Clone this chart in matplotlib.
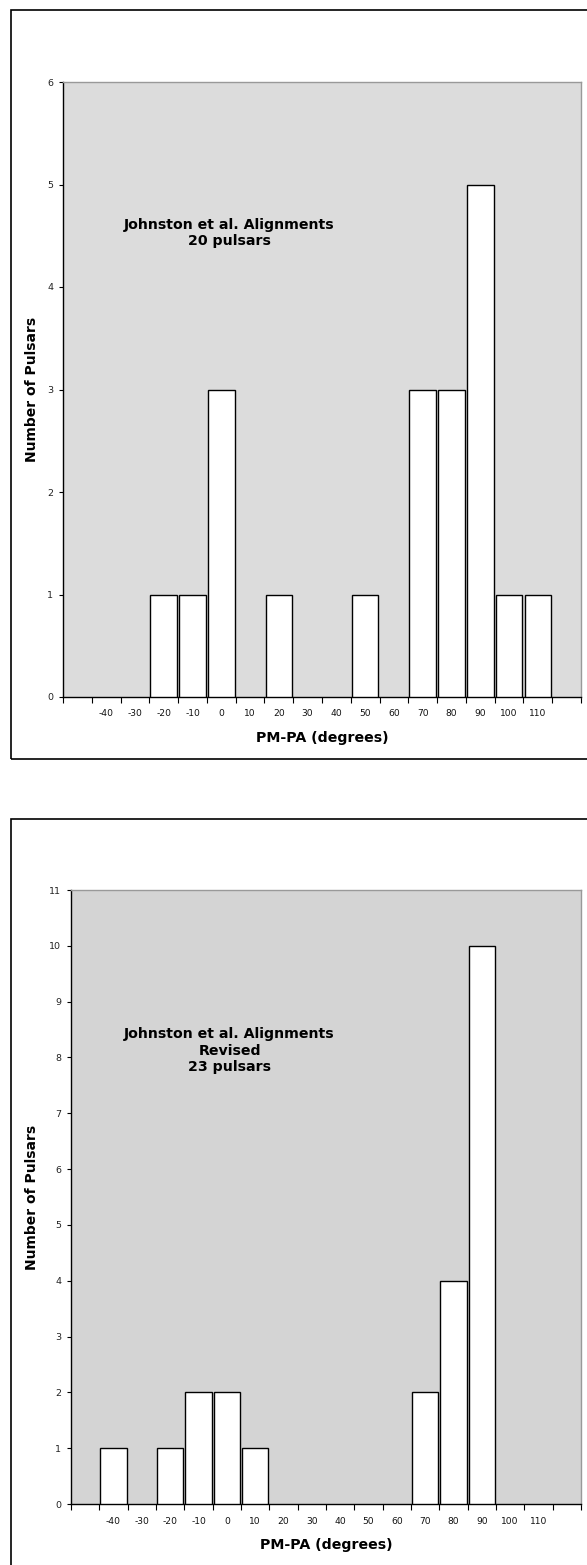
import matplotlib.pyplot as plt
from matplotlib.patches import Rectangle
import numpy as np

# category labels (blank slot at each end, as in the original chart)
categories = ['', '-40', '-30', '-20', '-10', '0', '10', '20', '30', '40',
              '50', '60', '70', '80', '90', '100', '110', '']

counts_orig = [0, 0, 0, 1, 1, 3, 0, 1, 0, 0, 1, 0, 3, 3, 5, 1, 1, 0]
counts_rev = [0, 1, 0, 1, 2, 2, 1, 0, 0, 0, 0, 0, 2, 4, 10, 0, 0, 0]

title_orig = 'Johnston et al. Alignments\n20 pulsars'
title_rev = 'Johnston et al. Alignments\nRevised\n23 pulsars'

W, H = 587, 1565
fig = plt.figure(figsize=(W / 100, H / 100), dpi=100)


def px_axes(left, top, right, bottom):
    return fig.add_axes([left / W, 1 - bottom / H, (right - left) / W, (bottom - top) / H])


def frame(left, top, right, bottom):
    fig.patches.append(Rectangle((left / W, 1 - bottom / H), (right - left) / W,
                                 (bottom - top) / H, transform=fig.transFigure,
                                 fill=False, edgecolor='black', lw=1.2))


def draw_hist(ax, counts, ymax, bg, text, tx, ty):
    ax.set_facecolor(bg)
    x = np.arange(len(categories))
    c = np.array(counts)
    m = c > 0
    ax.bar(x[m], c[m], width=0.92, color='white', edgecolor='black', lw=1, zorder=3)
    ax.set_xlim(-0.5, len(categories) - 0.5)
    ax.set_ylim(0, ymax)
    ax.set_yticks(range(ymax + 1))
    ax.set_xticks(np.arange(len(categories) + 1) - 0.5)
    ax.set_xticklabels([])
    ax.set_xticks(x, minor=True)
    ax.set_xticklabels(categories, minor=True)
    ax.tick_params(axis='x', which='minor', length=0, pad=9, labelsize=6.6, labelcolor='#111111')
    ax.tick_params(axis='x', which='major', length=4, width=0.8, direction='out')
    ax.tick_params(axis='y', length=3, width=0.8, direction='out', labelsize=6.8,
                   labelcolor='#222222', pad=4)
    for s in ['left', 'bottom']:
        ax.spines[s].set_color('black')
        ax.spines[s].set_linewidth(1)
    for s in ['top', 'right']:
        ax.spines[s].set_color('#999999')
        ax.spines[s].set_linewidth(1)
    ax.set_xlabel('PM-PA (degrees)', fontsize=10.2, fontweight='bold', labelpad=9)
    ax.set_ylabel('Number of Pulsars', fontsize=10, fontweight='bold')
    ax.text(tx, ty, text, transform=ax.transAxes, ha='center', va='center',
            fontsize=10.2, fontweight='bold', linespacing=1.22)


frame(11, 10, 600, 759)
ax1 = px_axes(63, 82, 581, 697)
draw_hist(ax1, counts_orig, 6, '#dcdcdc', title_orig, 0.321, 0.754)
ax1.yaxis.set_label_coords(-24 / 518, 0.5)

frame(11, 819, 600, 1600)
ax2 = px_axes(71, 890, 581, 1504)
draw_hist(ax2, counts_rev, 11, '#d4d4d4', title_rev, 0.311, 0.738)
ax2.yaxis.set_label_coords(-32 / 510, 0.5)

plt.savefig('out.png', dpi=100)
